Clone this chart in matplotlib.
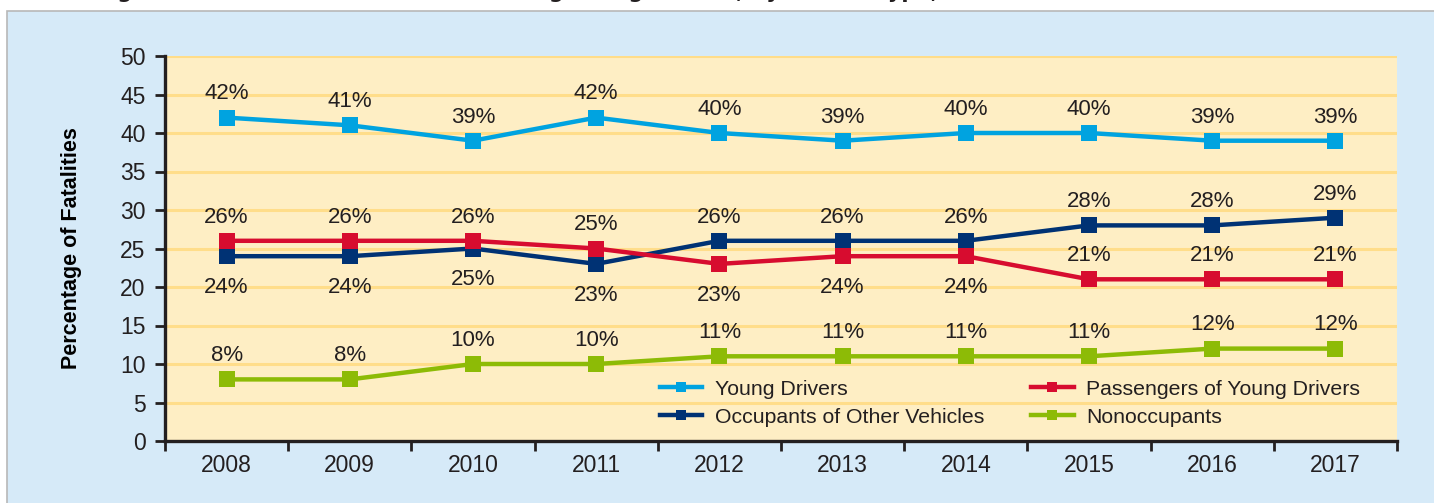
"""Fatalities in crashes involving young drivers, by person type."""

import matplotlib
matplotlib.use("Agg")
import matplotlib.pyplot as plt
from matplotlib.patches import Rectangle

years = ["2008", "2009", "2010", "2011", "2012", "2013", "2014", "2015", "2016", "2017"]
young_drivers = [42, 41, 39, 42, 40, 39, 40, 40, 39, 39]
passengers = [26, 26, 26, 25, 23, 24, 24, 21, 21, 21]
other_occupants = [24, 24, 25, 23, 26, 26, 26, 28, 28, 29]
nonoccupants = [8, 8, 10, 10, 11, 11, 11, 11, 12, 12]
# which side of the point each label sits on (+1 above, -1 below)
passengers_side = [1, 1, 1, 1, -1, -1, -1, 1, 1, 1]
occupants_side = [-1, -1, -1, -1, 1, 1, 1, 1, 1, 1]

TEXT = "#231F20"
plt.rcParams["font.family"] = ["Liberation Sans", "DejaVu Sans"]
plt.rcParams["text.color"] = TEXT
plt.rcParams["xtick.color"] = TEXT
plt.rcParams["ytick.color"] = TEXT

W, H = 1434, 503
fig = plt.figure(figsize=(W / 100, H / 100), dpi=100, facecolor="white")

# light blue panel behind the chart
fig.patches.append(Rectangle((7 / W, -0.05), 1.1, (H - 11) / H + 0.05,
                             transform=fig.transFigure, facecolor="#D6EAF8",
                             edgecolor="#B8B8B8", linewidth=1.2, zorder=-10))

# title cut off at the top edge, only descenders show
fig.text(96 / W, 1 + 2.5 / H,
         "Figure 4: Fatalities in Crashes Involving Young Drivers, by Person Type, 2008\u20132017",
         fontsize=15, fontweight="bold", va="baseline", ha="left", family="DejaVu Sans")

ax = fig.add_axes([165 / W, 1 - 441 / H, 1232 / W, 385 / H])
ax.set_facecolor("#FEEEC4")

x = list(range(len(years)))
series = [
    ("Nonoccupants", nonoccupants, "#8DBB06", [1] * len(years)),
    ("Occupants of Other Vehicles", other_occupants, "#003274", occupants_side),
    ("Passengers of Young Drivers", passengers, "#D70C2F", passengers_side),
    ("Young Drivers", young_drivers, "#00A3E0", [1] * len(years)),
]
handles = {}
for z, (name, vals, color, sides) in enumerate(series):
    line, = ax.plot(x, vals, color=color, linewidth=3.2, marker="s",
                    markersize=11.5, markeredgewidth=0, label=name, zorder=3 + z)
    handles[name] = line
    for xi, v, s in zip(x, vals, sides):
        off = 17 if s > 0 else -22.5
        ax.annotate(f"{v}%", (xi, v), xytext=(0, off), textcoords="offset points",
                    ha="center", va="center", fontsize=16, color=TEXT)

ax.set_xlim(-0.5, len(years) - 0.5)
ax.set_ylim(0, 50)
ax.set_yticks(range(0, 51, 5))
ax.yaxis.grid(True, color="#FFDD8A", linewidth=2.2)
ax.set_axisbelow(True)

ax.set_xticks([i - 0.5 for i in range(len(years) + 1)])
ax.set_xticklabels([])
ax.set_xticks(x, minor=True)
ax.set_xticklabels(years, minor=True)
ax.tick_params(axis="x", which="major", direction="out", length=7, width=2)
ax.tick_params(axis="x", which="minor", length=0, pad=9, labelsize=16.5)
ax.tick_params(axis="y", direction="out", length=7, width=2, pad=7, labelsize=16.5)

for side in ("top", "right"):
    ax.spines[side].set_visible(False)
for side in ("left", "bottom"):
    ax.spines[side].set_linewidth(2.4)
    ax.spines[side].set_color(TEXT)

ax.set_ylabel("Percentage of Fatalities", fontsize=15.5, fontweight="bold")
ax.yaxis.set_label_coords(-0.067, 0.5)

order = ["Young Drivers", "Occupants of Other Vehicles",
         "Passengers of Young Drivers", "Nonoccupants"]
leg = ax.legend([handles[n] for n in order], order, ncol=2, frameon=False,
                loc="lower left", bbox_to_anchor=(0.386, -0.013), fontsize=15.3,
                handlelength=2.0, handletextpad=0.6, columnspacing=2.2,
                labelspacing=0.43, markerscale=0.6)
leg.set_zorder(10)

fig.savefig("out.png", dpi=100)
